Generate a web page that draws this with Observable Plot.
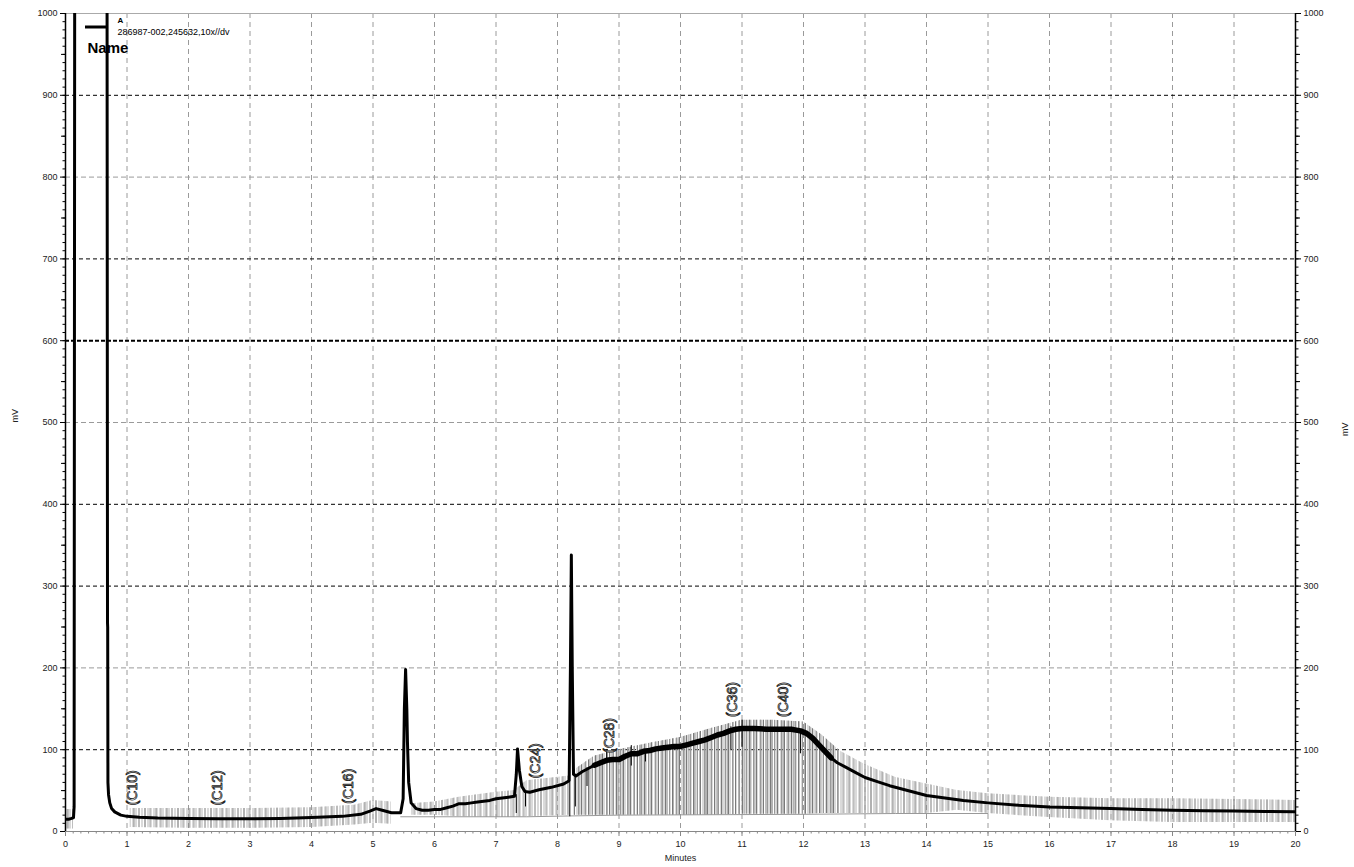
<!DOCTYPE html>
<html>
<head>
<meta charset="utf-8">
<script src="https://cdn.jsdelivr.net/npm/d3@7"></script>
<script src="https://cdn.jsdelivr.net/npm/@observablehq/plot@0.6"></script>
<style>
  html, body { margin: 0; padding: 0; background: #fff; }
  #chart { width: 1354px; height: 867px; }
</style>
</head>
<body>
<div id="chart"></div>
<script>
// ---- Data ----
const traceTime = [0,0.05,0.1,0.13,0.14,0.15,0.155,0.67,0.675,0.683,0.686,0.69,0.70,0.72,0.75,0.8,0.9,1.0,1.2,1.5,2,2.5,3,3.5,4,4.5,4.8,4.95,5.05,5.15,5.3,5.45,5.49,5.51,5.53,5.55,5.56,5.58,5.62,5.7,5.8,5.9,6.0,6.1,6.2,6.3,6.4,6.5,6.6,6.7,6.8,6.9,7.0,7.1,7.2,7.3,7.33,7.35,7.38,7.42,7.47,7.55,7.7,7.9,8.1,8.19,8.21,8.225,8.24,8.26,8.3,8.4,8.5,8.6,8.7,8.8,8.9,9.0,9.1,9.2,9.3,9.4,9.5,9.6,9.7,9.8,9.9,10.0,10.1,10.2,10.3,10.4,10.5,10.6,10.7,10.8,10.9,11.0,11.2,11.4,11.6,11.8,11.95,12.05,12.15,12.25,12.35,12.45,12.55,12.7,12.85,13.0,13.2,13.4,13.6,13.8,14.0,14.3,14.6,15.0,15.5,16.0,16.5,17.0,17.5,18.0,18.5,19.0,19.5,20];
const traceMV   = [15,15,16,17,30,1100,1100,1100,1100,255,250,60,45,35,28,24,20,18.5,17.5,16.5,16,15.5,15.5,16,17,18.5,21,25,28,26,23,23,40,150,198,150,110,60,35,28,26,26,27,27,29,31,34,34,35,36,37,38,40,41,42,43,70,101,75,55,49,48,51,54,58,62,200,338,200,70,68,73,77,81,84,87,88,88,92,95,95,98,99,101,102,103,104,104,106,108,110,112,115,118,120,123,125,126,126,125,125,125,123,120,114,106,98,90,84,78,72,66,61,56,52,48,44,41,38,35,32,30,29,28,27,26,25.5,25,24.5,24];

// hatched noise band (time, lower, upper); NaN rows break the band
const hatchTime = [0.0,0.13,0.131,1.05,2,3,4,4.7,5.0,5.3,5.31,5.62,6.0,6.4,7.0,7.3,7.5,8.2,8.21,8.27,8.6,9.0,9.5,10,10.5,11,11.5,12,12.3,12.6,13,13.5,14,14.5,15,16,17,18,19,20];
const hatchLow  = [3,3,NaN,5,4,4,5,8,10,9,NaN,20,20,18,17,17,18,20,NaN,20,20,20,20,20,20,21,21,21,22,22,22,22,22,26,22,17,13,11,11,11];
const hatchHigh = [27,27,NaN,28,28,28,29,32,38,36,NaN,34,36,42,48,50,62,68,NaN,75,92,100,108,115,126,136,136,134,118,98,82,66,58,50,46,42,40,40,39,38];

// thin baseline drawn under the band
const baseTime = [5.45,7.5,8.2,9.0,12,13.5,15];
const baseMV   = [18,18,19,20,21,22,22];

// sharp spikes (time, from, to)
const spikeTime = [7.33,7.48,8.2,8.29,8.48,8.8,9.2,9.43,10.82,11.0,11.95];
const spikeLow  = [22,30,18,30,55,85,80,85,100,103,95];
const spikeHigh = [45,50,60,70,78,100,105,100,128,136,125];

// peak labels
const peakNames = ["(C10)","(C12)","(C16)","(C24)","(C28)","(C36)","(C40)"];
const peakTime  = [1.09,2.47,4.6,7.64,8.85,10.85,11.68];
const peakMV    = [32,32,34,65,96,140,140];

// axes / grid
const yMajor = d3.range(0, 1001, 100);
const yMinor = d3.range(0, 1001, 10);
const yMid = d3.range(50, 1001, 100);
const xMajor = d3.range(0, 21, 1);
const xMinor = d3.range(0, 20.001, 0.125);
const gridBlack = [100, 300, 400, 700, 900];
const gridGray = [200, 500, 800];
const gridThick = [600];
const gridX = d3.range(1, 20, 1);

const trace = traceTime.map((t, i) => ({t, v: traceMV[i]}));
const noisy = trace.filter(d => d.t >= 8.55 && d.t <= 12.45);
const hatch = hatchTime.map((t, i) => ({t, lo: hatchLow[i], hi: hatchHigh[i]}));
const hatchDense = hatch.filter(d => d.t >= 8.27 && d.t <= 12.6);
const base = baseTime.map((t, i) => ({t, v: baseMV[i]}));
const spikes = spikeTime.map((t, i) => ({t, lo: spikeLow[i], hi: spikeHigh[i]}));
const peaks = peakNames.map((n, i) => ({n, t: peakTime[i], v: peakMV[i]}));

const font = "Liberation Sans, Arial, Helvetica, sans-serif";
const fmt = d => String(d);

const svg = Plot.plot({
  width: 1354,
  height: 867,
  marginLeft: 65,
  marginRight: 59,
  marginTop: 13,
  marginBottom: 36,
  style: {fontFamily: font, background: "#fff", color: "#222"},
  x: {domain: [0, 20]},
  y: {domain: [0, 1000]},
  marks: [
    // grid
    Plot.ruleX(gridX, {stroke: "#9a9a9a", strokeWidth: 1, strokeDasharray: "5,4"}),
    Plot.ruleY(gridGray, {stroke: "#9a9a9a", strokeWidth: 1, strokeDasharray: "5,3"}),
    Plot.ruleY(gridBlack, {stroke: "#000", strokeWidth: 1, strokeDasharray: "4,3"}),
    Plot.ruleY(gridThick, {stroke: "#000", strokeWidth: 2, strokeDasharray: "4,2"}),
    Plot.ruleY([1000], {stroke: "#aaa", strokeWidth: 1}),
    // noise band
    Plot.areaY(hatch, {x: "t", y1: "lo", y2: "hi", fill: "url(#hatchA)", curve: "linear"}),
    Plot.areaY(hatch, {x: "t", y1: "lo", y2: "hi", fill: "url(#hatchB)", curve: "linear"}),
    Plot.areaY(hatchDense, {x: "t", y1: "lo", y2: "hi", fill: "url(#hatchC)", curve: "linear"}),
    Plot.line(base, {x: "t", y: "v", stroke: "#999", strokeWidth: 1}),
    // spikes
    Plot.ruleX(spikes, {x: "t", y1: "lo", y2: "hi", stroke: "#000", strokeWidth: 1}),
    // trace
    Plot.line(trace, {x: "t", y: "v", stroke: "#000", strokeWidth: 3, clip: true, strokeLinejoin: "round"}),
    Plot.line(noisy, {x: "t", y: "v", stroke: "#000", strokeWidth: 5.5, clip: true, strokeLinejoin: "round"}),
    // peak labels
    Plot.text(peaks, {x: "t", y: "v", text: "n", rotate: -90, textAnchor: "start", lineAnchor: "middle",
      fontSize: 14, fill: "#fff", stroke: "#222", strokeWidth: 0.8, paintOrder: "normal"}),
    // axis lines
    Plot.ruleY([0], {stroke: "#888", strokeWidth: 1}),
    Plot.ruleX([0], {stroke: "#000", strokeWidth: 1.5}),
    Plot.ruleX([20], {stroke: "#000", strokeWidth: 1.5}),
    // y axes
    Plot.axisY(yMajor, {anchor: "left", tickSize: 5, tickPadding: 3, fontSize: 9, tickFormat: fmt, label: null, stroke: "#000"}),
    Plot.axisY(yMid, {anchor: "left", tickSize: 4, tickFormat: () => "", label: null, stroke: "#000"}),
    Plot.axisY(yMinor, {anchor: "left", tickSize: 2.5, tickFormat: () => "", label: null, stroke: "#000"}),
    Plot.axisY(yMajor, {anchor: "right", tickSize: 5, tickPadding: 3, fontSize: 9, tickFormat: fmt, label: null, stroke: "#000"}),
    Plot.axisY(yMid, {anchor: "right", tickSize: 4, tickFormat: () => "", label: null, stroke: "#000"}),
    Plot.axisY(yMinor, {anchor: "right", tickSize: 2.5, tickFormat: () => "", label: null, stroke: "#000"}),
    // x axis
    Plot.axisX(xMajor, {anchor: "bottom", tickSize: 5, tickPadding: 4, fontSize: 9, tickFormat: fmt, label: null, stroke: "#888"}),
    Plot.axisX(xMinor, {anchor: "bottom", tickSize: 2.5, tickFormat: () => "", label: null, stroke: "#888"}),
    // axis titles
    Plot.text(["Minutes"], {frameAnchor: "bottom", dy: 27, fontSize: 9, fill: "#222", lineAnchor: "middle"}),
    Plot.text(["mV"], {frameAnchor: "left", dx: -50, rotate: -90, fontSize: 9, fill: "#222"}),
    Plot.text(["mV"], {frameAnchor: "right", dx: 50, rotate: -90, fontSize: 9, fill: "#222"}),
    // legend
    Plot.text(["A"], {frameAnchor: "top-left", dx: 52, dy: 7, fontSize: 8, fontWeight: "bold", textAnchor: "start", lineAnchor: "middle", fill: "#000"}),
    Plot.text(["286987-002,245632,10x//dv"], {frameAnchor: "top-left", dx: 52, dy: 19, fontSize: 9, textAnchor: "start", lineAnchor: "middle", fill: "#000"}),
    Plot.text(["Name"], {frameAnchor: "top-left", dx: 22, dy: 35, fontSize: 15, fontWeight: "bold", textAnchor: "start", lineAnchor: "middle", fill: "#000"})
  ]
});

// hatch patterns + legend swatch
const sel = d3.select(svg);
const defs = sel.insert("defs", ":first-child");
defs.append("pattern").attr("id", "hatchA").attr("patternUnits", "userSpaceOnUse")
  .attr("width", 3).attr("height", 20)
  .append("line").attr("x1", 1).attr("x2", 1).attr("y1", 0).attr("y2", 20)
  .attr("stroke", "#b5b5b5").attr("stroke-width", 1);
const pb = defs.append("pattern").attr("id", "hatchB").attr("patternUnits", "userSpaceOnUse")
  .attr("width", 11).attr("height", 20);
pb.append("line").attr("x1", 2).attr("x2", 2).attr("y1", 0).attr("y2", 20)
  .attr("stroke", "#8a8a8a").attr("stroke-width", 1);
pb.append("line").attr("x1", 7).attr("x2", 7).attr("y1", 0).attr("y2", 20)
  .attr("stroke", "#a0a0a0").attr("stroke-width", 1);
const pc = defs.append("pattern").attr("id", "hatchC").attr("patternUnits", "userSpaceOnUse")
  .attr("width", 7).attr("height", 20);
pc.append("line").attr("x1", 0.5).attr("x2", 0.5).attr("y1", 0).attr("y2", 20)
  .attr("stroke", "#7a7a7a").attr("stroke-width", 1);
pc.append("line").attr("x1", 4.5).attr("x2", 4.5).attr("y1", 0).attr("y2", 20)
  .attr("stroke", "#999").attr("stroke-width", 1);
sel.append("line").attr("x1", 85).attr("x2", 108).attr("y1", 27).attr("y2", 27)
  .attr("stroke", "#000").attr("stroke-width", 3);

document.getElementById("chart").appendChild(svg);
</script>
</body>
</html>
